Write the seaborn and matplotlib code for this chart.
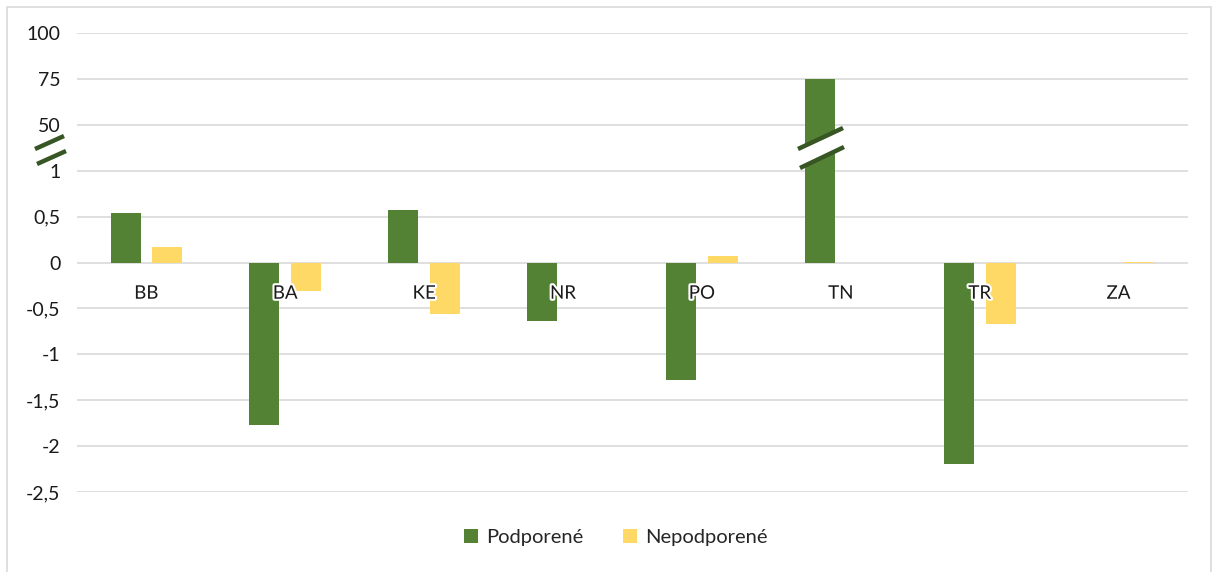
import numpy as np
import pandas as pd
import matplotlib
matplotlib.use("Agg")
import matplotlib.pyplot as plt
import matplotlib.patheffects as pe
from matplotlib.patches import Rectangle, Polygon
from matplotlib.lines import Line2D
import seaborn as sns

# Data
regions = ["BB", "BA", "KE", "NR", "PO", "TN", "TR", "ZA"]
podporene = [0.54, -1.77, 0.57, -0.64, -1.28, 75.0, -2.2, 0.0]
nepodporene = [0.17, -0.31, -0.56, 0.0, 0.07, 0.0, -0.67, 0.01]
series_names = ["Podporené", "Nepodporené"]
y_ticks = [-2.5, -2, -1.5, -1, -0.5, 0, 0.5, 1, 50, 75, 100]
y_tick_labels = ["-2,5", "-2", "-1,5", "-1", "-0,5", "0", "0,5", "1", "50", "75", "100"]

df = pd.DataFrame({
    "region": regions * 2,
    "value": podporene + nepodporene,
    "series": [series_names[0]] * len(regions) + [series_names[1]] * len(regions),
})

GREEN = "#548235"
YELLOW = "#FFD966"
DARK = "#375623"


# broken axis: linear up to 1, then 1..50 and 50..100 squeezed
def forward(v):
    v = np.asarray(v, dtype=float)
    return np.where(v <= 1, v,
                    np.where(v <= 50, 1 + 0.5 * (v - 1) / 49, 1.5 + 0.5 * (v - 50) / 25))


def inverse(t):
    t = np.asarray(t, dtype=float)
    return np.where(t <= 1, t,
                    np.where(t <= 1.5, 1 + (t - 1) * 98, 50 + (t - 1.5) * 50))


sns.set_theme(style="whitegrid")
plt.rcParams["font.family"] = ["Lato", "DejaVu Sans"]

fig = plt.figure(figsize=(12.22, 5.72), dpi=100)
ax = fig.add_axes([77 / 1222, 1 - 492 / 572, (1188 - 77) / 1222, (492 - 33) / 572])

sns.barplot(data=df, x="region", y="value", hue="series", ax=ax,
            palette=[GREEN, YELLOW], width=0.6, gap=0.28, errorbar=None,
            saturation=1, linewidth=0)

ax.set_yscale("function", functions=(forward, inverse))
ax.set_ylim(-2.5, 100)
ax.set_yticks(y_ticks)
ax.set_yticklabels(y_tick_labels)
ax.set_xlim(-0.5, len(regions) - 0.5)
ax.set_xlabel("")
ax.set_ylabel("")

ax.grid(axis="y", color="#d9d9d9", linewidth=1.2)
ax.grid(axis="x", visible=False)
for s in ["left", "right", "top"]:
    ax.spines[s].set_visible(False)
ax.spines["bottom"].set_position(("data", 0))
ax.spines["bottom"].set_visible(False)

ax.tick_params(axis="y", length=0, pad=12, labelsize=14, labelcolor="#1a1a1a")
ax.tick_params(axis="x", length=0, pad=16, labelsize=13.5, labelcolor="#1a1a1a")
ax.xaxis.set_zorder(5)
for lab in ax.get_xticklabels():
    lab.set_path_effects([pe.withStroke(linewidth=3, foreground="white")])

sns.move_legend(ax, "center", bbox_to_anchor=(0.485, -0.1), ncol=2, frameon=False,
                title=None, fontsize=14.5, handlelength=0.7, handleheight=0.7,
                columnspacing=2.0, handletextpad=0.4)

# break marks on the axis
def px(x, y):
    return (x / 1222, 1 - y / 572)

for (x0, y0), (x1, y1) in [((35, 149), (64, 136)), ((37, 164), (66, 151))]:
    fig.add_artist(Line2D([px(x0, y0)[0], px(x1, y1)[0]], [px(x0, y0)[1], px(x1, y1)[1]],
                          color=DARK, linewidth=3.2, solid_capstyle="butt"))

# break on the TN bar
fig.add_artist(Polygon([px(798, 149), px(843, 128), px(843, 147), px(798, 168)],
                       closed=True, facecolor="white", edgecolor="none"))
for (x0, y0), (x1, y1) in [((798, 149), (843, 128)), ((800, 168), (844, 147))]:
    fig.add_artist(Line2D([px(x0, y0)[0], px(x1, y1)[0]], [px(x0, y0)[1], px(x1, y1)[1]],
                          color=DARK, linewidth=3.2, solid_capstyle="butt"))

# chart border
fig.add_artist(Rectangle(px(7, 580), (1211 - 7) / 1222, (580 - 7) / 572, fill=False,
                         edgecolor="#d9d9d9", linewidth=1.2))

fig.savefig("out.png", dpi=100)
